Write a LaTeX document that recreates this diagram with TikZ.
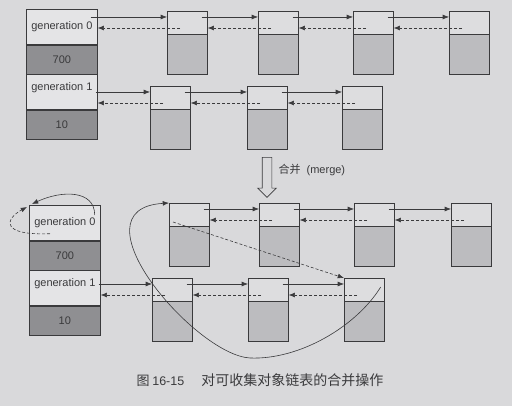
\documentclass[tikz,border=0pt]{standalone}
\usepackage{fontspec}
\setmainfont{Liberation Sans}
\newfontfamily\cjk{Noto Sans CJK SC}
\usepackage{tikz}
\usetikzlibrary{positioning,arrows.meta,calc,shapes.arrows}
\definecolor{paper}{HTML}{D9D9DB}
\definecolor{ink}{HTML}{3A3A3C}
\definecolor{headfill}{HTML}{DDDDDF}
\definecolor{bodyfill}{HTML}{BCBCBF}
\definecolor{genlight}{HTML}{E4E4E6}
\definecolor{gendark}{HTML}{8F8F92}
\tikzset{
  gencell/.style ={draw=ink, fill=#1, line width=0.7pt, minimum width=71pt, minimum height=35pt,
                   inner sep=0pt, anchor=north west, font=\fontsize{11}{13}\selectfont, text=ink},
  genraised/.style={gencell=genlight, text depth=11pt},
  gencnt/.style  ={gencell=gendark, minimum height=29pt},
  obj/.style     ={draw=ink, fill=bodyfill, line width=0.7pt, minimum width=40pt, minimum height=63pt,
                   inner sep=0pt, anchor=north west},
  objhead/.style ={draw=ink, fill=headfill, line width=0.7pt, minimum width=40pt, minimum height=23pt,
                   inner sep=0pt, anchor=north west},
  nextarr/.style ={-{Latex[length=2.2mm,width=1.7mm]}, line width=0.6pt, draw=ink},
  prevarr/.style ={nextarr, dash pattern=on 3pt off 2pt},
  mergearr/.style={single arrow, draw=ink, fill=paper, line width=0.6pt, shape border rotate=270,
                   minimum height=40pt, inner sep=4.5pt, single arrow head extend=4.5pt},
}

\begin{document}
\begin{tikzpicture}[x=1pt,y=-1pt]
\useasboundingbox[fill=paper] (0,0) rectangle (512,406);
% before merge: generation table
\node[gencell=genlight] (g0) at (26,9) {generation 0};
\node[gencnt, below=0pt of g0] (g0n) {700};
\node[genraised, below=0pt of g0n] (g1) {generation 1};
\node[gencnt, below=0pt of g1] (g1n) {10};
% before merge: object lists
\foreach \n/\x in {1/167,2/258,3/353,4/449} {
  \node[obj] (a\n) at (\x,11) {};
  \node[objhead] (ah\n) at (a\n.north west) {};
}
\foreach \n/\x in {1/150,2/247,3/342} {
  \node[obj] (b\n) at (\x,86) {};
  \node[objhead] (bh\n) at (b\n.north west) {};
}
\foreach \p/\q/\s in {g0/ah1/7pt,ah1/ah2/6pt,ah2/ah3/6pt,ah3/ah4/6pt,g1/bh1/2pt,bh1/bh2/6pt,bh2/bh3/6pt} {
  \draw[nextarr] ([xshift=-\s,yshift=-6pt]\q.north west -| \p.east) -- ([yshift=-6pt]\q.north west);
  \draw[prevarr] ([xshift=13pt,yshift=-17pt]\q.north west) -- ([yshift=-17pt]\q.north west -| \p.east);
}
% merge
\node[mergearr] (merge) at (267,175) {};
\node[anchor=west, font=\fontsize{11}{13}\selectfont, text=ink] (mergelbl) at (275,170) {{\cjk 合并}\ \ (merge)};
% after merge: generation table
\node[gencell=genlight] (G0) at (29,205) {generation 0};
\node[gencnt, below=0pt of G0] (G0n) {700};
\node[genraised, below=0pt of G0n] (G1) {generation 1};
\node[gencnt, below=0pt of G1] (G1n) {10};
% after merge: object lists
\foreach \n/\x in {1/169,2/259,3/354,4/451} {
  \node[obj] (c\n) at (\x,203) {};
  \node[objhead] (ch\n) at (c\n.north west) {};
}
\foreach \n/\x in {1/152,2/248,3/344} {
  \node[obj] (d\n) at (\x,278) {};
  \node[objhead] (dh\n) at (d\n.north west) {};
}
\foreach \p/\q/\s in {ch1/ch2/6pt,ch2/ch3/6pt,ch3/ch4/6pt,G1/dh1/2pt,dh1/dh2/6pt,dh2/dh3/6pt} {
  \draw[nextarr] ([xshift=-\s,yshift=-6pt]\q.north west -| \p.east) -- ([yshift=-6pt]\q.north west);
  \draw[prevarr] ([xshift=13pt,yshift=-17pt]\q.north west) -- ([yshift=-17pt]\q.north west -| \p.east);
}
% generation 0 now empty: points to itself
\draw[nextarr] ([xshift=-6pt,yshift=-10pt]G0.north east) .. controls +(0,-25) and +(30,-14) .. ([xshift=3pt,yshift=1pt]G0.north west);
\draw[prevarr] ([xshift=21pt,yshift=7pt]G0.south west) .. controls +(-50,2) and +(-22,12) .. ([xshift=-2pt,yshift=-2pt]G0.north west);
% generation 1 tail joined to old generation 0 list
\coordinate (loopbot) at (250,358);
\draw[nextarr] ([xshift=-4pt,yshift=-9pt]dh3.north east) .. controls +(-24,39) and +(50,2) .. (loopbot)
  .. controls +(-55,-3) and +(-99,6) .. (ch1.north west);
\draw[prevarr] ([xshift=4pt,yshift=-19pt]ch1.north west) -- (dh3.north west);
% caption
\node[anchor=west, text=ink] (caption) at (133,380)
  {{\cjk\fontsize{13}{16}\selectfont 图}\ {\fontsize{12.5}{15}\selectfont 16-15}\hspace{17pt}{\cjk\fontsize{14}{16}\selectfont 对可收集对象链表的合并操作}};
\end{tikzpicture}
\end{document}
